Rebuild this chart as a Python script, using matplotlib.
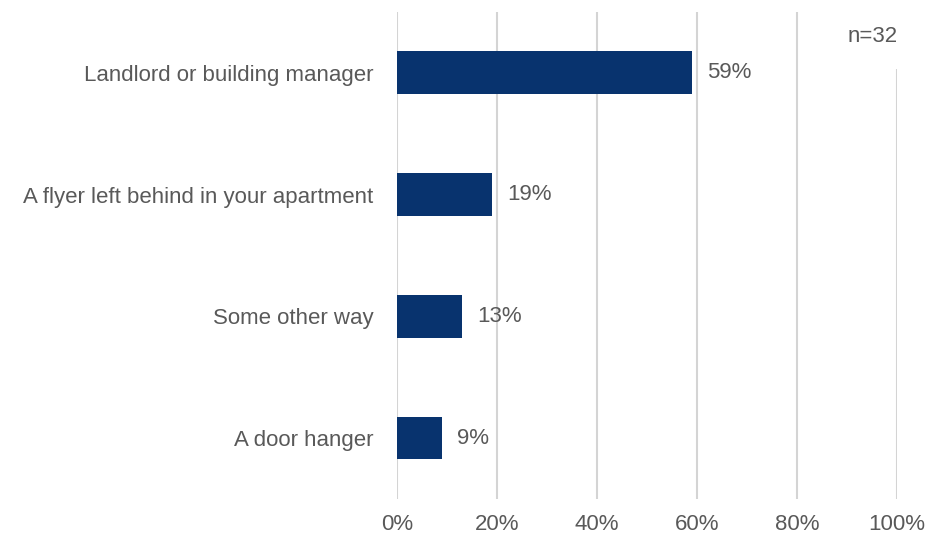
import matplotlib.pyplot as plt
from matplotlib.ticker import FuncFormatter

categories = ["Landlord or building manager", "A flyer left behind in your apartment",
              "Some other way", "A door hanger"]
shares = [59, 19, 13, 9]
ticks = [0, 20, 40, 60, 80, 100]
sample_note = "n=32"

bar_color = "#08336e"
text_color = "#595959"
grid_color = "#d4d4d4"
fs = 16

plt.rcParams['font.family'] = ['Liberation Sans', 'DejaVu Sans']

fig = plt.figure(figsize=(9.28, 5.37), dpi=100)
ax = fig.add_axes([0.4278, 0.0708, 0.5388, 0.907])

ypos = list(range(len(categories)))
ax.barh(ypos, shares, height=0.35, color=bar_color, zorder=3)
ax.set_ylim(len(categories) - 0.5, -0.5)
ax.set_xlim(0, 100)

for y, v in zip(ypos, shares):
    ax.text(v + 3, y, f"{v}%", va="center", ha="left", fontsize=fs, color=text_color)

ax.set_yticks(ypos)
ax.set_yticklabels(categories, fontsize=fs, color=text_color)
ax.set_xticks(ticks)
ax.xaxis.set_major_formatter(FuncFormatter(lambda v, p: f"{v:.0f}%"))
ax.tick_params(axis="x", labelsize=fs, labelcolor=text_color, length=0, pad=11)
ax.tick_params(axis="y", length=0, pad=17)

ax.grid(axis="x", color=grid_color, linewidth=1.5, zorder=0)
for s in ax.spines.values():
    s.set_visible(False)

# sample size note sits over the top of the 100% gridline
ax.text(0.952, 0.949, sample_note, transform=ax.transAxes, ha="center", va="center",
        fontsize=fs, color=text_color, zorder=5,
        bbox=dict(facecolor="white", edgecolor="none", pad=16))

fig.savefig("out.png", dpi=100)
